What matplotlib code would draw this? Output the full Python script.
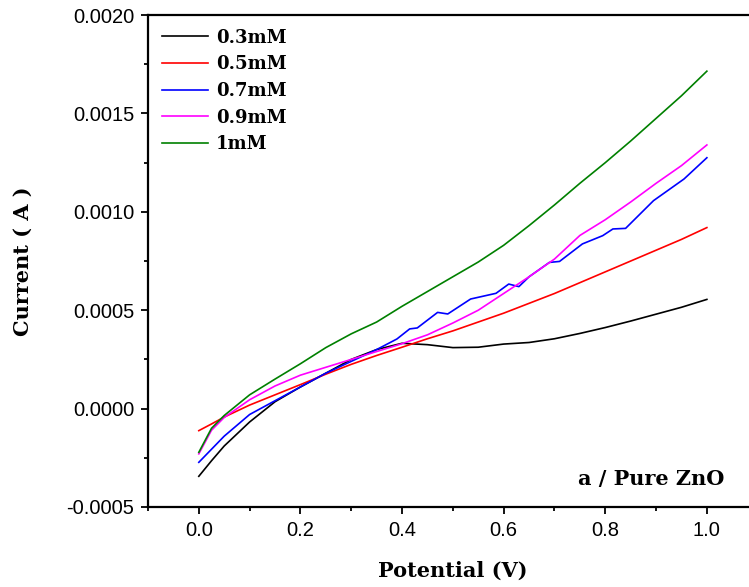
import matplotlib.pyplot as plt
import numpy as np
from matplotlib.ticker import MultipleLocator

# potential (V) grid for the smooth curves
pot = [0.0, 0.025, 0.05, 0.1, 0.15, 0.2, 0.25, 0.3, 0.35, 0.4, 0.45, 0.5,
       0.55, 0.6, 0.65, 0.7, 0.75, 0.8, 0.85, 0.9, 0.95, 1.0]

# currents in units of 1e-4 A
i_03 = [-3.44, -2.65, -1.9, -0.68, 0.35, 1.1, 1.8, 2.5, 3.0, 3.32, 3.25, 3.1,
        3.12, 3.28, 3.36, 3.55, 3.82, 4.12, 4.45, 4.8, 5.15, 5.55]
i_05 = [-1.12, -0.78, -0.43, 0.18, 0.7, 1.22, 1.75, 2.25, 2.7, 3.12, 3.55, 3.95,
        4.4, 4.85, 5.35, 5.85, 6.4, 6.95, 7.5, 8.05, 8.6, 9.2]
i_09 = [-2.3, -1.1, -0.45, 0.45, 1.15, 1.7, 2.1, 2.5, 2.9, 3.3, 3.75, 4.35,
        5.0, 5.85, 6.7, 7.6, 8.8, 9.6, 10.5, 11.45, 12.35, 13.4]
i_1 = [-2.22, -1.0, -0.35, 0.7, 1.5, 2.28, 3.1, 3.8, 4.4, 5.2, 5.95, 6.7,
       7.45, 8.3, 9.3, 10.35, 11.45, 12.5, 13.6, 14.75, 15.9, 17.15]

# 0.7 mM is noisier, so it gets its own points
pot_07 = [0.0, 0.05, 0.1, 0.15, 0.2, 0.25, 0.3, 0.35, 0.39, 0.415, 0.43, 0.47,
          0.49, 0.535, 0.585, 0.61, 0.63, 0.65, 0.69, 0.71, 0.755, 0.795,
          0.815, 0.84, 0.895, 0.955, 1.0]
i_07 = [-2.73, -1.4, -0.3, 0.4, 1.1, 1.8, 2.4, 3.0, 3.54, 4.05, 4.1, 4.89,
        4.81, 5.57, 5.86, 6.33, 6.2, 6.7, 7.43, 7.48, 8.37, 8.79,
        9.13, 9.16, 10.57, 11.67, 12.75]

serif = ['DejaVu Serif']

fig = plt.figure(figsize=(7.49, 5.87), dpi=100)
ax = fig.add_axes([0.1976, 0.1363, 0.814, 0.838])

ax.plot(pot, np.array(i_03) * 1e-4, color='black', lw=1.2, label='0.3mM')
ax.plot(pot, np.array(i_05) * 1e-4, color='red', lw=1.2, label='0.5mM')
ax.plot(pot_07, np.array(i_07) * 1e-4, color='blue', lw=1.2, label='0.7mM')
ax.plot(pot, np.array(i_09) * 1e-4, color='magenta', lw=1.2, label='0.9mM')
ax.plot(pot, np.array(i_1) * 1e-4, color='green', lw=1.2, label='1mM')

ax.set_xlim(-0.1, 1.1)
ax.set_ylim(-0.0005, 0.0020)
ax.xaxis.set_major_locator(MultipleLocator(0.2))
ax.xaxis.set_minor_locator(MultipleLocator(0.1))
ax.yaxis.set_major_locator(MultipleLocator(0.0005))
ax.yaxis.set_minor_locator(MultipleLocator(0.00025))
ax.xaxis.set_major_formatter(plt.FuncFormatter(lambda v, p: f'{v:.1f}'))
ax.yaxis.set_major_formatter(plt.FuncFormatter(lambda v, p: f'{v:.4f}'))

ax.tick_params(which='major', direction='out', length=5, width=1.3,
               labelsize=14.5, pad=5)
ax.tick_params(which='minor', direction='out', length=3, width=1.3)
for lab in ax.get_xticklabels() + ax.get_yticklabels():
    lab.set_family('Liberation Sans')
for s in ax.spines.values():
    s.set_linewidth(1.6)

ax.set_xlabel('Potential (V)', family=serif, fontweight='bold', fontsize=15,
              labelpad=15)
ax.set_ylabel('Current ( A )', family=serif, fontweight='bold', fontsize=15,
              labelpad=24)

ax.legend(loc='upper left', frameon=False, handlelength=2.6,
          handletextpad=0.4, labelspacing=0.48, borderaxespad=0.35,
          prop={'family': serif, 'weight': 'bold', 'size': 13})

ax.text(1.035, -0.00036, 'a / Pure ZnO', family=serif, fontweight='bold',
        fontsize=15, ha='right', va='center')

fig.savefig('out.png', dpi=100)
